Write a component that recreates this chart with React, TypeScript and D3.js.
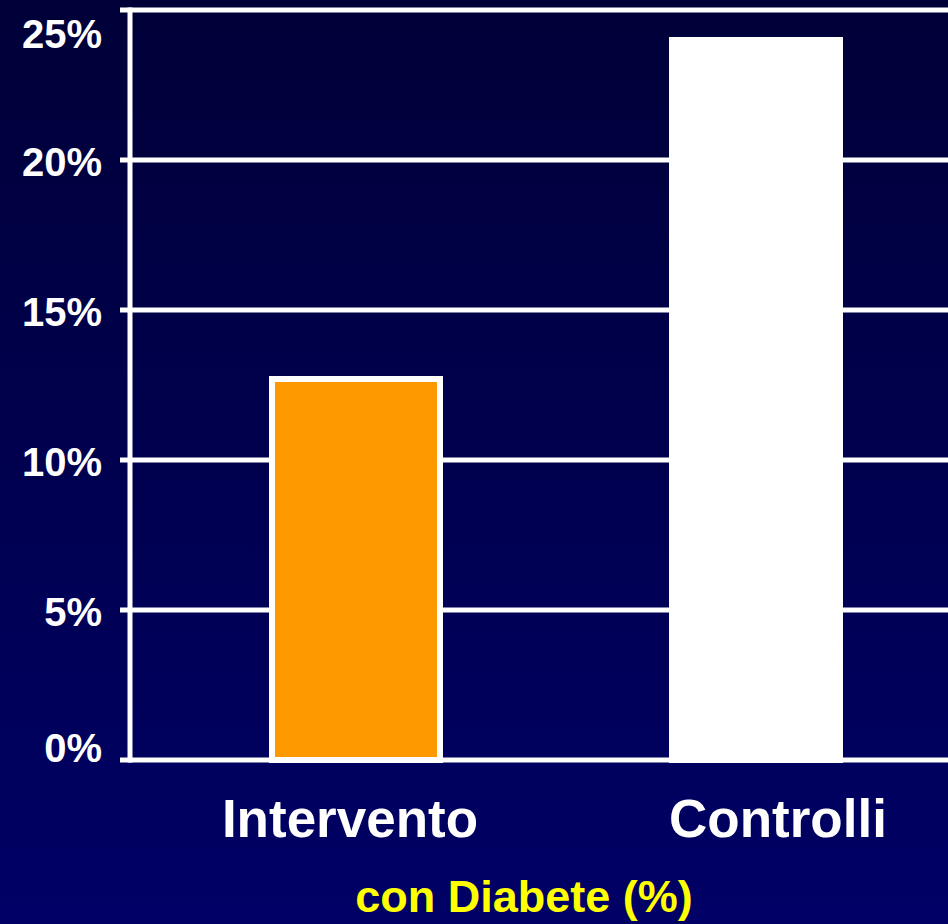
import React from "react";
import * as d3 from "d3";

// Share of participants with diabetes, by group
const categories = ["Intervento", "Controlli"];
const values = [12.7, 24.0];
const barColors = ["#FF9900", "#FFFFFF"];
const yTicks = [0, 5, 10, 15, 20, 25];
const subtitle = "con Diabete (%)";

const W = 948;
const H = 924;
const FONT = "'Liberation Sans', Arial, Helvetica, sans-serif";
// horizontal nudge of each category label relative to its bar centre
const LABEL_NUDGE = [-6, 22];

export default function App() {
  const y = d3.scaleLinear().domain([0, 25]).range([760, 10]);
  const x = d3
    .scaleBand<string>()
    .domain(categories)
    .range([156, 956])
    .paddingInner(0.58)
    .paddingOuter(0.29);

  const axisX = 130;
  const fmt = (v: number) => `${v}%`;

  return (
    <svg
      width={W}
      height={H}
      style={{ position: "absolute", left: 0, top: 0, display: "block" }}
      fontFamily={FONT}
    >
      <defs>
        <linearGradient id="bg" x1="0" y1="0" x2="0" y2="1">
          <stop offset="0%" stopColor="#000038" />
          <stop offset="100%" stopColor="#000066" />
        </linearGradient>
      </defs>
      <rect x={0} y={0} width={W} height={H} fill="url(#bg)" />

      {/* gridlines with short ticks to the left of the axis */}
      {yTicks.map((t) => (
        <line
          key={`g${t}`}
          x1={axisX - 10}
          x2={W + 20}
          y1={y(t)}
          y2={y(t)}
          stroke="#FFFFFF"
          strokeWidth={5}
        />
      ))}

      {/* tick labels, kept inside the plotting band */}
      {yTicks.map((t) => {
        const cy = Math.min(Math.max(y(t) + 2, 34), 748);
        return (
          <text
            key={`l${t}`}
            x={102}
            y={cy}
            dy="0.36em"
            textAnchor="end"
            fill="#FFFFFF"
            fontWeight="bold"
            fontSize={40}
          >
            {fmt(t)}
          </text>
        );
      })}

      {/* bars */}
      {categories.map((c, i) => (
        <rect
          key={c}
          x={x(c)!}
          y={y(values[i])}
          width={x.bandwidth()}
          height={y(0) - y(values[i])}
          fill={barColors[i]}
          stroke="#FFFFFF"
          strokeWidth={6}
        />
      ))}

      {/* axis line */}
      <line
        x1={axisX}
        x2={axisX}
        y1={y(25) - 2.5}
        y2={y(0) + 2.5}
        stroke="#FFFFFF"
        strokeWidth={5}
      />

      {/* category labels */}
      {categories.map((c, i) => (
        <text
          key={`c${c}`}
          x={x(c)! + x.bandwidth() / 2 + LABEL_NUDGE[i]}
          y={837}
          textAnchor="middle"
          fill="#FFFFFF"
          fontWeight="bold"
          fontSize={53}
        >
          {c}
        </text>
      ))}

      <text
        x={524}
        y={912}
        textAnchor="middle"
        fill="#FFFF00"
        fontWeight="bold"
        fontSize={45}
      >
        {subtitle}
      </text>
    </svg>
  );
}
